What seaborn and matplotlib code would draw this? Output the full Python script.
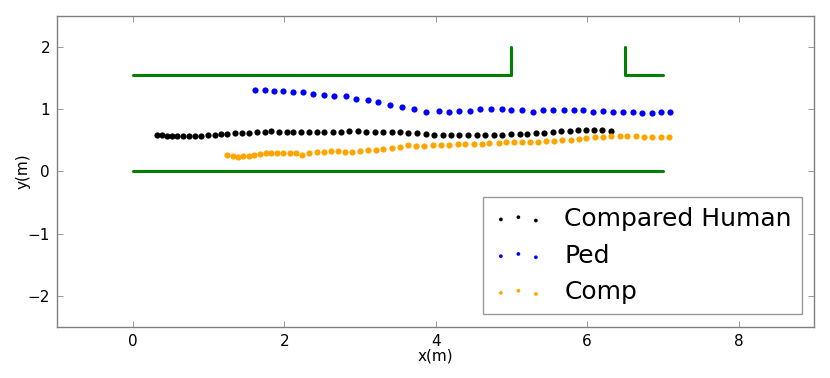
import matplotlib
matplotlib.use("Agg")
import matplotlib.pyplot as plt
import seaborn as sns
import numpy as np
import pandas as pd

# %%
# trajectories (metres)
human_x = [0.32, 0.38, 0.45, 0.52, 0.59, 0.66, 0.74, 0.82, 0.90, 0.99, 1.08, 1.16, 1.25, 1.35,
           1.44, 1.54, 1.64, 1.74, 1.83, 1.93, 2.03, 2.12, 2.22, 2.33, 2.43, 2.53, 2.64, 2.75,
           2.86, 2.97, 3.08, 3.20, 3.31, 3.42, 3.53, 3.64, 3.75, 3.87, 3.98, 4.09, 4.20, 4.31,
           4.43, 4.54, 4.65, 4.77, 4.88, 4.99, 5.11, 5.21, 5.32, 5.43, 5.55, 5.66, 5.77, 5.88,
           5.99, 6.09, 6.20, 6.31]
human_y = [0.58, 0.58, 0.57, 0.565, 0.565, 0.565, 0.565, 0.57, 0.575, 0.58, 0.59, 0.60, 0.60, 0.61,
           0.62, 0.62, 0.63, 0.64, 0.645, 0.64, 0.63, 0.63, 0.63, 0.63, 0.63, 0.63, 0.64, 0.64,
           0.65, 0.65, 0.63, 0.63, 0.63, 0.63, 0.63, 0.62, 0.61, 0.60, 0.59, 0.59, 0.59, 0.585,
           0.585, 0.585, 0.585, 0.59, 0.59, 0.60, 0.60, 0.60, 0.61, 0.61, 0.635, 0.65, 0.655, 0.66,
           0.665, 0.665, 0.665, 0.65]

ped_x = [1.61, 1.74, 1.87, 1.99, 2.12, 2.25, 2.38, 2.52, 2.66, 2.81, 2.95, 3.10, 3.24, 3.39,
         3.55, 3.71, 3.87, 4.04, 4.17, 4.31, 4.45, 4.59, 4.73, 4.87, 5.00, 5.14, 5.28, 5.42,
         5.55, 5.70, 5.82, 5.95, 6.08, 6.21, 6.34, 6.47, 6.60, 6.72, 6.85, 6.98, 7.10]
ped_y = [1.31, 1.31, 1.30, 1.29, 1.28, 1.27, 1.24, 1.23, 1.21, 1.21, 1.17, 1.14, 1.11, 1.07,
         1.04, 1.00, 0.96, 0.97, 0.96, 0.97, 0.97, 1.00, 1.00, 1.00, 0.98, 0.99, 0.95, 0.98,
         0.98, 0.98, 0.98, 0.98, 0.96, 0.97, 0.95, 0.95, 0.95, 0.94, 0.94, 0.95, 0.95]

comp_x = [1.25, 1.32, 1.39, 1.46, 1.53, 1.60, 1.68, 1.76, 1.83, 1.91, 1.99, 2.07, 2.16, 2.24,
          2.33, 2.43, 2.52, 2.62, 2.71, 2.80, 2.90, 3.00, 3.11, 3.21, 3.31, 3.42, 3.53, 3.63,
          3.74, 3.85, 3.96, 4.07, 4.18, 4.29, 4.39, 4.50, 4.61, 4.71, 4.83, 4.93, 5.04, 5.14,
          5.25, 5.35, 5.46, 5.56, 5.67, 5.78, 5.89, 5.99, 6.10, 6.21, 6.32, 6.43, 6.53, 6.64,
          6.75, 6.86, 6.97, 7.08]
comp_y = [0.26, 0.25, 0.23, 0.24, 0.24, 0.26, 0.28, 0.29, 0.30, 0.29, 0.29, 0.295, 0.295, 0.27,
          0.295, 0.31, 0.32, 0.33, 0.33, 0.31, 0.31, 0.33, 0.34, 0.34, 0.355, 0.375, 0.40, 0.42,
          0.415, 0.415, 0.42, 0.425, 0.43, 0.435, 0.44, 0.445, 0.445, 0.45, 0.46, 0.47, 0.47, 0.48,
          0.48, 0.48, 0.485, 0.485, 0.50, 0.51, 0.52, 0.53, 0.55, 0.555, 0.565, 0.57, 0.575, 0.57,
          0.56, 0.55, 0.55, 0.555]

# corridor walls
wall_low_x = [0, 7]
wall_low_y = [0, 0]
wall_up_x = [0, 5, 5]
wall_up_y = [1.55, 1.55, 2.0]
wall_door_x = [6.5, 6.5, 7]
wall_door_y = [2.0, 1.55, 1.55]

# %%
sns.set_style("white")
plt.rcParams["font.family"] = ["DejaVu Sans"]
plt.rcParams["text.color"] = "black"
plt.rcParams["axes.labelcolor"] = "black"
plt.rcParams["xtick.color"] = "black"
plt.rcParams["ytick.color"] = "black"

fig = plt.figure(figsize=(8.3, 3.78), dpi=100)
ax = fig.add_axes([0.0687, 0.135, 0.9125, 0.823])

for wx, wy in [(wall_low_x, wall_low_y), (wall_up_x, wall_up_y), (wall_door_x, wall_door_y)]:
    ax.plot(wx, wy, color="green", lw=2.2, zorder=1)

series = [(human_x, human_y, "black", "Compared Human"),
          (ped_x, ped_y, "blue", "Ped"),
          (comp_x, comp_y, "orange", "Comp")]
for sx, sy, c, lab in series:
    df = pd.DataFrame({"x": sx, "y": sy})
    sns.scatterplot(data=df, x="x", y="y", color=c, s=20, linewidth=0, label=lab, ax=ax, zorder=2)

ax.set_xlim(-1, 9)
ax.set_ylim(-2.5, 2.5)
ax.set_xticks([0, 2, 4, 6, 8])
ax.set_yticks([-2, -1, 0, 1, 2])
ax.set_xlabel("x(m)", fontsize=11, labelpad=0)
ax.set_ylabel("y(m)", fontsize=11, labelpad=-2)
ax.tick_params(direction="in", length=4, width=0.6, labelsize=11,
               top=True, right=True, bottom=True, left=True, pad=5)
ax.tick_params(colors="#888888", labelcolor="black")
for sp in ax.spines.values():
    sp.set_color("#808080")
    sp.set_linewidth(1.0)

leg = ax.legend(loc="lower right", fontsize=18, scatterpoints=3, markerscale=0.6,
                fancybox=False, frameon=True, borderaxespad=0.5, handlelength=2.0,
                handletextpad=0.84, borderpad=0.4, labelspacing=0.51)
leg.get_frame().set_edgecolor("#808080")
leg.get_frame().set_linewidth(1.0)

fig.savefig("out.png", dpi=100)
